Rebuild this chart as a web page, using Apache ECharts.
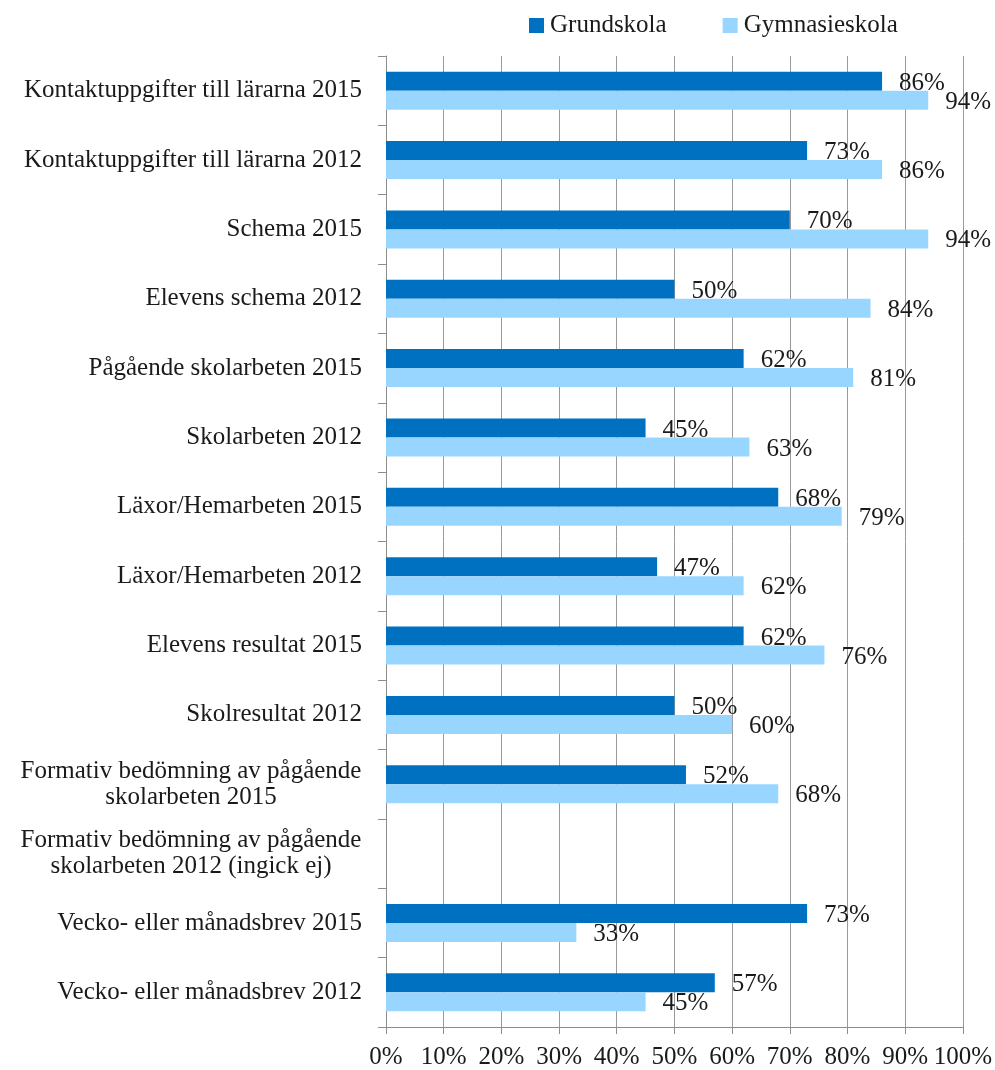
<!DOCTYPE html>
<html>
<head>
<meta charset="utf-8">
<script src="https://cdn.jsdelivr.net/npm/echarts@6/dist/echarts.min.js"></script>
<style>
  html, body { margin: 0; padding: 0; background: #fff; }
  #chart { width: 995px; height: 1070px; }
</style>
</head>
<body>
<div id="chart"></div>
<script>
const categories = [
  'Kontaktuppgifter till lärarna 2015',
  'Kontaktuppgifter till lärarna 2012',
  'Schema 2015',
  'Elevens schema 2012',
  'Pågående skolarbeten 2015',
  'Skolarbeten 2012',
  'Läxor/Hemarbeten 2015',
  'Läxor/Hemarbeten 2012',
  'Elevens resultat 2015',
  'Skolresultat 2012',
  'Formativ bedömning av pågående\nskolarbeten 2015',
  'Formativ bedömning av pågående\nskolarbeten 2012 (ingick ej)',
  'Vecko- eller månadsbrev 2015',
  'Vecko- eller månadsbrev 2012'
]
const grundskola = [86, 73, 70, 50, 62, 45, 68, 47, 62, 50, 52, null, 73, 57]
const gymnasieskola = [94, 86, 94, 84, 81, 63, 79, 62, 76, 60, 68, null, 33, 45]

const font = '"Liberation Serif", "DejaVu Serif", serif'
const textColor = '#1a1a1a'

let myChart = echarts.init(document.getElementById('chart'))

const labelStyle = {
  show: true,
  position: 'right',
  distance: 17,
  offset: [0, 2],
  formatter: '{c}%',
  fontFamily: font,
  fontSize: 25,
  color: textColor
}

// two-line labels are centred on each other, like the original
function catLabel(v) {
  if (v.indexOf('\n') < 0) return v
  return v.split('\n').map(s => '{m|' + s + '}').join('\n')
}

myChart.setOption({
  animation: false,
  textStyle: { fontFamily: font },
  legend: {
    left: 524,
    top: 8,
    itemWidth: 15,
    itemHeight: 15,
    itemGap: 56,
    icon: 'rect',
    textStyle: { fontFamily: font, fontSize: 25, color: textColor, padding: [0, 0, 0, 1] },
    data: ['Grundskola', 'Gymnasieskola']
  },
  grid: { left: 386, right: 31, top: 56, bottom: 43, containLabel: false },
  xAxis: {
    type: 'value',
    min: 0,
    max: 100,
    interval: 10,
    axisLine: { show: true, lineStyle: { color: '#8c8c8c' } },
    axisTick: { show: true, length: 7, lineStyle: { color: '#8c8c8c' } },
    splitLine: { show: true, lineStyle: { color: '#9a9a9a', width: 1 } },
    axisLabel: {
      formatter: '{value}%',
      fontFamily: font,
      fontSize: 25,
      color: textColor,
      margin: 18
    }
  },
  yAxis: {
    type: 'category',
    inverse: true,
    data: categories,
    axisLine: { show: true, lineStyle: { color: '#8c8c8c' } },
    axisTick: { show: true, length: 8, lineStyle: { color: '#8c8c8c' } },
    axisLabel: {
      formatter: catLabel,
      fontFamily: font,
      fontSize: 25,
      color: textColor,
      margin: 24,
      lineHeight: 26,
      align: 'right',
      rich: {
        m: { fontFamily: font, fontSize: 25, color: textColor, lineHeight: 26, width: 342, align: 'center' }
      }
    }
  },
  series: [
    {
      name: 'Grundskola',
      type: 'bar',
      data: grundskola,
      barWidth: 19,
      barGap: '0%',
      itemStyle: { color: '#0070C0' },
      label: labelStyle
    },
    {
      name: 'Gymnasieskola',
      type: 'bar',
      data: gymnasieskola,
      barWidth: 19,
      barGap: '0%',
      itemStyle: { color: '#99D6FF' },
      label: labelStyle
    }
  ]
})
</script>
</body>
</html>
